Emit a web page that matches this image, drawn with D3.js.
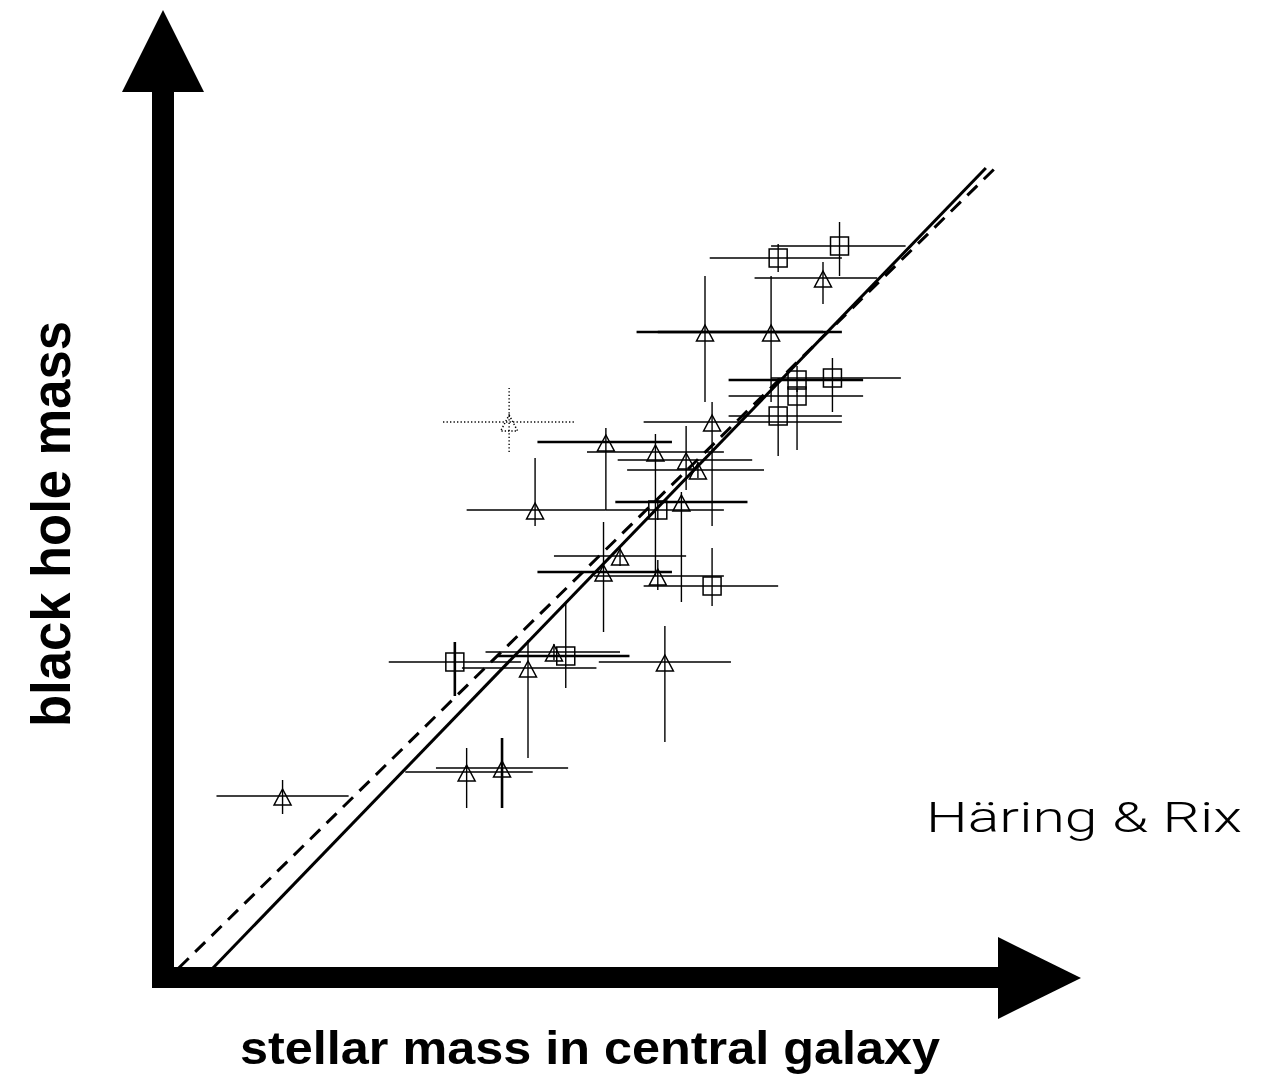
<!DOCTYPE html>
<html>
<head>
<meta charset="utf-8">
<script src="https://cdn.jsdelivr.net/npm/d3@7"></script>
<style>
  html, body { margin: 0; padding: 0; background: #fff; }
  svg { display: block; }
</style>
</head>
<body>
<svg id="chart" width="1278" height="1075"></svg>
<script>
// Black hole mass vs. bulge stellar mass (log solar masses), with error ranges.
// kind: "sq" = square, "tri" = triangle, "dot" = dotted triangle (uncertain)
const kind     = ["sq","sq","tri","tri","tri","sq","sq","sq","sq","tri",
                  "dot","tri","tri","tri","tri","tri","sq","tri","tri","tri",
                  "tri","sq","sq","tri","tri","sq","tri","tri","tri","tri"];
const logMstar = [11.82,11.56,11.75,11.25,11.53,11.64,11.64,11.79,11.56,11.28,
                  10.42,10.83,11.04,11.17,11.22,10.53,11.05,11.15,10.89,10.82,
                  11.05,11.28,10.19,10.50,10.61,10.66,11.08,10.24,10.39,9.46];
const logMbh   = [10.11,10.05,9.95,9.68,9.68,9.44,9.36,9.45,9.26,9.23,
                  9.23,9.13,9.08,9.04,8.99,8.79,8.79,8.83,8.56,8.48,
                  8.46,8.41,8.03,8.00,8.08,8.06,8.03,7.48,7.50,7.36];
const mstarLo  = [11.53,11.27,11.46,10.96,11.05,11.35,11.35,11.53,11.35,10.99,
                  10.14,10.54,10.75,10.88,10.92,10.24,10.83,10.87,10.61,10.54,
                  10.78,10.99,9.91,10.22,10.32,10.37,10.80,9.98,10.11,9.18];
const mstarHi  = [12.10,11.83,11.98,11.75,11.83,11.92,11.92,12.08,11.83,11.83,
                  10.70,11.11,11.33,11.45,11.50,10.83,11.33,11.43,11.17,11.11,
                  11.33,11.56,10.47,10.79,10.89,10.93,11.36,10.52,10.67,9.74];
const mbhLo    = [9.96,9.98,9.82,9.33,9.33,9.38,9.09,9.28,9.06,8.71,
                  9.08,8.79,8.46,8.89,8.95,8.71,8.74,8.33,8.51,8.18,
                  8.39,8.31,7.86,7.55,8.04,7.90,7.63,7.30,7.30,7.27];
const mbhHi    = [10.23,10.12,10.03,9.96,9.96,9.51,9.40,9.55,9.45,9.33,
                  9.40,9.20,9.17,9.21,9.03,9.05,8.84,8.88,8.60,8.73,
                  8.54,8.60,8.13,8.14,8.12,8.33,8.21,7.60,7.65,7.44];

// Fitted relations (end points in log units)
const fitSolidX  = [9.165, 12.44];
const fitSolidY  = [6.5, 10.5];
const fitDashedX = [9.02, 12.48];
const fitDashedY = [6.5, 10.5];

// Text
const yTitle = "black hole mass";
const xTitle = "stellar mass in central galaxy";
const credit = "Häring & Rix";

// error bars printed heavier in the original plot (row indices)
const heavyH = new Set([3, 4, 11, 17, 19, 25, 5]);
const heavyV = new Set([22, 28]);

const svg = d3.select("#chart");
const x = d3.scaleLinear().domain([9, 12.5]).range([174, 1000]);
const y = d3.scaleLinear().domain([6.5, 10.5]).range([968, 168]);

const rows = logMstar.map((v, i) => ({
  i, k: kind[i], x: v, y: logMbh[i],
  x0: mstarLo[i], x1: mstarHi[i], y0: mbhLo[i], y1: mbhHi[i]
}));

// fit lines
const line = d3.line().x(d => x(d[0])).y(d => y(d[1]));
svg.append("path")
  .attr("d", line(d3.zip(fitSolidX, fitSolidY)))
  .attr("fill", "none").attr("stroke", "#000").attr("stroke-width", 3);
svg.append("path")
  .attr("d", line(d3.zip(fitDashedX, fitDashedY)))
  .attr("fill", "none").attr("stroke", "#000").attr("stroke-width", 3)
  .attr("stroke-dasharray", "14,9");

// error bars
const g = svg.append("g").selectAll("g").data(rows).join("g");
const dotted = d => d.k === "dot" ? "1.3,2.2" : null;
g.append("line")
  .attr("x1", d => x(d.x0)).attr("x2", d => x(d.x1))
  .attr("y1", d => y(d.y)).attr("y2", d => y(d.y))
  .attr("stroke", "#000")
  .attr("stroke-width", d => heavyH.has(d.i) ? 2.6 : 1.4)
  .attr("stroke-dasharray", dotted);
g.append("line")
  .attr("x1", d => x(d.x)).attr("x2", d => x(d.x))
  .attr("y1", d => y(d.y0)).attr("y2", d => y(d.y1))
  .attr("stroke", "#000")
  .attr("stroke-width", d => heavyV.has(d.i) ? 2.6 : 1.4)
  .attr("stroke-dasharray", dotted);

// markers
g.filter(d => d.k === "sq").append("rect")
  .attr("x", d => x(d.x) - 9).attr("y", d => y(d.y) - 9)
  .attr("width", 18).attr("height", 18);
g.filter(d => d.k !== "sq").append("path")
  .attr("d", d => {
    const cx = x(d.x), cy = y(d.y);
    return `M${cx},${cy - 7}L${cx + 8.5},${cy + 9}L${cx - 8.5},${cy + 9}Z`;
  });
g.selectAll("rect, path")
  .attr("fill", "none").attr("stroke", "#000").attr("stroke-width", 1.5)
  .attr("stroke-dasharray", d => d.k === "dot" ? "1.3,2" : null);

// axes as heavy arrows
const axisG = svg.append("g").attr("fill", "#000");
const x0px = x.range()[0], yBase = y.range()[0];
axisG.append("rect").attr("x", x0px - 22).attr("y", 92)
  .attr("width", 22).attr("height", yBase + 20 - 92);
axisG.append("path").attr("d", `M${x0px - 52},92L${x0px + 30},92L${x0px - 11},10Z`);
axisG.append("rect").attr("x", x0px - 22).attr("y", yBase - 1)
  .attr("width", 998 - (x0px - 22)).attr("height", 21);
axisG.append("path").attr("d", `M998,937L998,1019L1081,978Z`);

// labels
svg.append("text")
  .attr("transform", "translate(70,524) rotate(-90)")
  .attr("text-anchor", "middle")
  .attr("font-family", "'Liberation Sans', Arial, Helvetica, sans-serif")
  .attr("font-weight", "bold").attr("font-size", 56)
  .attr("textLength", 406).attr("lengthAdjust", "spacingAndGlyphs")
  .text(yTitle);
svg.append("text")
  .attr("x", 590).attr("y", 1064)
  .attr("text-anchor", "middle")
  .attr("font-family", "'Liberation Sans', Arial, Helvetica, sans-serif")
  .attr("font-weight", "bold").attr("font-size", 46)
  .attr("textLength", 700).attr("lengthAdjust", "spacingAndGlyphs")
  .text(xTitle);
svg.append("text")
  .attr("x", 926).attr("y", 832)
  .attr("font-family", "Roboto, 'Open Sans', Lato, sans-serif")
  .attr("font-weight", 300).attr("font-size", 42)
  .attr("textLength", 316).attr("lengthAdjust", "spacingAndGlyphs")
  .text(credit);
</script>
</body>
</html>
